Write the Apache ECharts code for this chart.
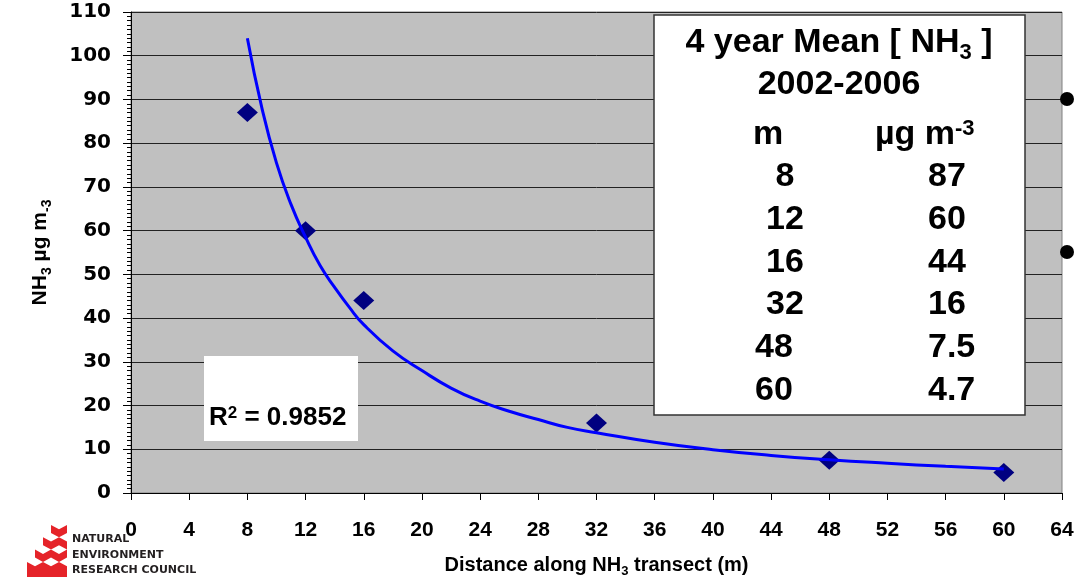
<!DOCTYPE html>
<html style="height: 100%">
<head>
<meta charset="utf-8">
<script src="https://cdn.jsdelivr.net/npm/echarts@6/dist/echarts.min.js"></script>
</head>
<body style="margin: 0; background: #fff">
<div id="container" style="width: 1075px; height: 577px;"></div>
<script type="text/javascript">
// measured points (distance m, NH3 ug m-3)
var distances = [8, 12, 16, 32, 48, 60];
var concentrations = [87, 60, 44, 16, 7.5, 4.7];
// power trend line
var trendX = [8, 9, 10, 11, 12, 13, 14, 15, 16, 18, 20, 22, 24, 26, 28, 30, 32, 36, 40, 44, 48, 52, 56, 60];
var trendY = [104, 88, 75.5, 66, 58.5, 52, 47, 42.5, 38.5, 32.5, 28, 24, 21, 18.7, 16.8, 15, 13.8, 11.6, 9.9, 8.6, 7.6, 6.8, 6.1, 5.5];
var rSquared = '0.9852';
var tableTitle = ['4 year Mean [ NH{s|3} ]', '2002-2006'];
var logoLines = ['NATURAL', 'ENVIRONMENT', 'RESEARCH COUNCIL'];

var FONT = 'Liberation Sans';
var dom = document.getElementById('container');
var myChart = echarts.init(dom);

var pts = distances.map(function (d, i) { return [d, concentrations[i]]; });
var trend = trendX.map(function (d, i) { return [d, trendY[i]]; });

// table box content
var graphics = [];
graphics.push({
    type: 'rect', shape: { x: 654, y: 15, width: 371, height: 400 },
    style: { fill: '#fff', stroke: '#333', lineWidth: 1.5 }, z: 100
});
var bigText = { fontFamily: FONT, fontWeight: 'bold', fontSize: 34, fill: '#000' };
var rich = {
    s: { fontFamily: FONT, fontWeight: 'bold', fontSize: 22, verticalAlign: 'bottom', padding: [0, 0, -4, 0] },
    sup: { fontFamily: FONT, fontWeight: 'bold', fontSize: 22, verticalAlign: 'top' }
};
function txt(x, y, s, align, extra) {
    var st = Object.assign({ text: s, x: x, y: y, align: align || 'center', verticalAlign: 'middle', rich: rich }, bigText, extra || {});
    return { type: 'text', style: st, z: 101 };
}
graphics.push(txt(839, 43, tableTitle[0]));
graphics.push(txt(839, 85, tableTitle[1]));
graphics.push(txt(768, 135, 'm'));
graphics.push(txt(875, 135, 'µg m{sup|-3}', 'left'));
var leftCx = [785, 785, 785, 785, 774, 774];
for (var i = 0; i < distances.length; i++) {
    var ry = 177 + i * 42.7;
    graphics.push(txt(leftCx[i], ry, String(distances[i])));
    graphics.push(txt(928, ry, String(concentrations[i]), 'left'));
}

// R2 box
graphics.push({
    type: 'rect', shape: { x: 204, y: 356, width: 154, height: 85 },
    style: { fill: '#fff' }, z: 100
});
graphics.push({
    type: 'text', z: 101,
    style: {
        text: 'R{sup|2} = ' + rSquared, x: 209, y: 418, align: 'left', verticalAlign: 'middle',
        fontFamily: FONT, fontWeight: 'bold', fontSize: 26, fill: '#000',
        rich: { sup: { fontFamily: FONT, fontWeight: 'bold', fontSize: 17, verticalAlign: 'top' } }
    }
});

// bullets on the right edge
graphics.push({ type: 'circle', shape: { cx: 1067, cy: 99, r: 7 }, style: { fill: '#000' }, z: 100 });
graphics.push({ type: 'circle', shape: { cx: 1067, cy: 252, r: 7 }, style: { fill: '#000' }, z: 100 });

// NERC logo
var cw = 16, ch = 8, cd = 4.3, right = 67;
for (var r = 0; r < 4; r++) {
    var y0 = 525 + r * (ch + cd);
    for (var x0 = 51 - 8 * r; x0 < right; x0 += cw) {
        var p;
        if (x0 + cw <= right) {
            p = [[x0, y0], [x0 + cw / 2, y0 + cd], [x0 + cw, y0], [x0 + cw, y0 + ch], [x0 + cw / 2, y0 + ch + cd], [x0, y0 + ch]];
        } else {
            p = [[x0, y0], [x0 + cw / 2, y0 + cd], [x0 + cw / 2, y0 + ch + cd], [x0, y0 + ch]];
        }
        if (r === 3) { p = p.map(function (q) { return [q[0], q[1] >= y0 + ch ? 580 : q[1]]; }); }
        graphics.push({ type: 'polygon', shape: { points: p }, style: { fill: '#E52329' }, z: 100 });
    }
}
logoLines.forEach(function (s, k) {
    graphics.push({
        type: 'text', z: 101,
        style: { text: s, x: 72, y: 539.5 + k * 15.5, align: 'left', verticalAlign: 'middle',
            fontFamily: 'DejaVu Sans', fontWeight: 'bold', fontSize: 11, fill: '#231F20' }
    });
});

option = {
    animation: false,
    grid: {
        left: 131, top: 12, right: 13, bottom: 84,
        show: true, backgroundColor: '#C0C0C0', borderColor: '#808080', borderWidth: 1,
        outerBoundsMode: 'none'
    },
    xAxis: {
        type: 'value', min: 0, max: 64, interval: 4,
        name: 'Distance along NH{s|3} transect (m)',
        nameLocation: 'middle', nameGap: 62,
        nameTextStyle: {
            fontFamily: FONT, fontWeight: 'bold', fontSize: 20, color: '#000',
            rich: { s: { fontFamily: FONT, fontWeight: 'bold', fontSize: 13, verticalAlign: 'bottom', padding: [0, 0, -3, 0] } }
        },
        axisLine: { lineStyle: { color: '#000', width: 1 } },
        axisTick: { show: true, length: 7, lineStyle: { color: '#000' } },
        axisLabel: { margin: 27, fontFamily: FONT, fontWeight: 'bold', fontSize: 21, color: '#000' },
        splitLine: { show: false }
    },
    yAxis: {
        type: 'value', min: 0, max: 110, interval: 10,
        name: 'NH{s|3} µg m{s|-3}',
        nameLocation: 'middle', nameGap: 80, nameRotate: 90,
        nameTextStyle: {
            fontFamily: FONT, fontWeight: 'bold', fontSize: 21, color: '#000',
            rich: { s: { fontFamily: FONT, fontWeight: 'bold', fontSize: 14, verticalAlign: 'bottom', padding: [0, 0, -3, 0] } }
        },
        axisLine: { show: true, lineStyle: { color: '#000', width: 1 } },
        axisTick: { show: true, length: 8, lineStyle: { color: '#000' } },
        minorTick: { show: true, splitNumber: 10, length: 4, lineStyle: { color: '#000' } },
        axisLabel: { margin: 20, fontFamily: 'DejaVu Sans', fontWeight: 'bold', fontSize: 20, color: '#000' },
        splitLine: { show: true, lineStyle: { color: '#222', width: 1 } }
    },
    graphic: graphics,
    series: [{
        name: 'NH3', type: 'scatter', data: pts,
        symbol: 'diamond', symbolSize: [21, 19],
        itemStyle: { color: '#000080', opacity: 1 }, z: 3
    }, {
        name: 'Power trend', type: 'line', data: trend,
        smooth: true, showSymbol: false,
        lineStyle: { color: '#0000FF', width: 3 }, z: 4
    }]
};
if (option && typeof option === 'object') {
    myChart.setOption(option, true);
}
</script>
</body>
</html>
